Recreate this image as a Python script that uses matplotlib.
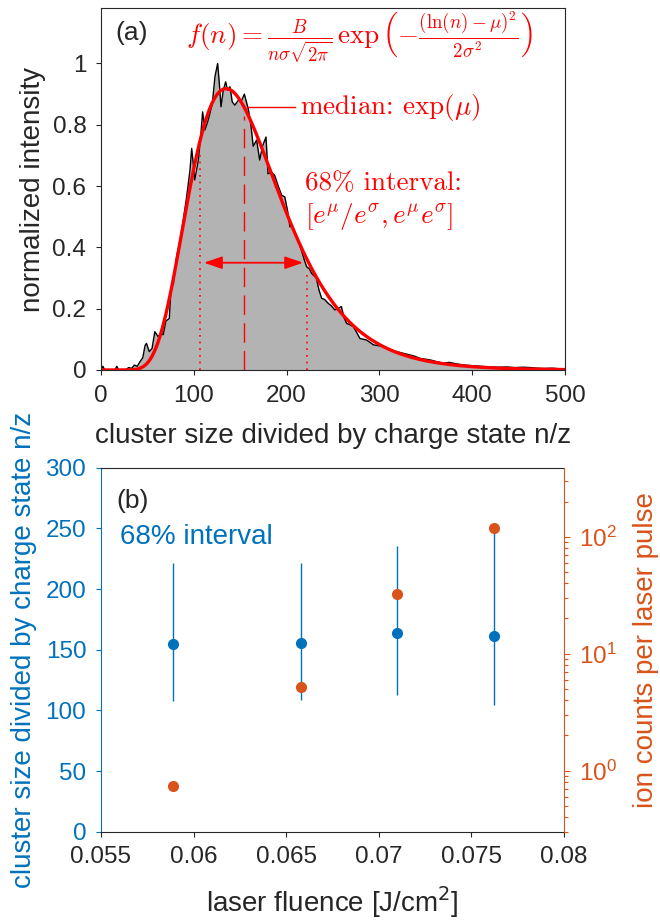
import numpy as np
import matplotlib
matplotlib.use('Agg')
import matplotlib.pyplot as plt
from matplotlib.ticker import FuncFormatter, LogLocator, NullFormatter

plt.rcParams['font.family'] = ['Liberation Sans', 'DejaVu Sans']

# %% data
# normalized histogram of n/z (first fluence), read as (n, intensity) points
hist_n = [0, 2, 4, 15, 17, 19, 26, 30, 33, 36, 39, 42, 45, 47.5, 49, 52, 55, 58, 61.5, 63.6,
          65, 67, 70, 73.6, 75.5, 78, 81.5, 85, 88.7, 92.3, 95.9, 97.7, 99.4, 101, 104.9,
          107.7, 109.5, 112, 115, 117.4, 120, 122.8, 125.7, 127.5, 129.3, 131.8, 134.3, 136.4,
          139, 141.4, 144.2, 148, 151, 154.5, 158.8, 161.5, 164, 167.7, 171, 174, 177.8, 180,
          183.5, 187, 191, 194.7, 198, 201, 203.6, 206, 209, 213, 216, 219, 221.6, 224.5, 227,
          232, 235, 237.8, 241, 245, 248, 252, 255, 259, 262, 264.7, 268, 272, 276, 279, 283,
          286, 290, 293.5, 298, 304, 310, 318.6, 325, 333, 338, 343.7, 350, 354.5, 362, 369,
          375, 383, 392, 401, 410, 419, 428, 437, 446, 455, 462, 470, 478, 486, 494, 500]
hist_y = [0.0, 0.012, 0.0, 0.0, 0.012, 0.0, 0.0, 0.008, 0.005, 0.016, 0.012, 0.027, 0.04,
          0.08, 0.087, 0.06, 0.07, 0.125, 0.109, 0.114, 0.12, 0.115, 0.16, 0.168, 0.27, 0.28,
          0.37, 0.42, 0.49, 0.565, 0.652, 0.723, 0.674, 0.62, 0.685, 0.772, 0.842, 0.783, 0.81,
          0.837, 0.87, 0.957, 1.0, 0.935, 0.859, 0.913, 0.94, 0.913, 0.924, 0.875, 0.864, 0.88,
          0.876, 0.90, 0.85, 0.80, 0.73, 0.75, 0.685, 0.73, 0.76, 0.64, 0.645, 0.636, 0.60,
          0.57, 0.565, 0.52, 0.467, 0.47, 0.45, 0.42, 0.39, 0.36, 0.337, 0.33, 0.315, 0.30,
          0.26, 0.234, 0.23, 0.217, 0.21, 0.196, 0.20, 0.207, 0.17, 0.152, 0.148, 0.141, 0.12,
          0.103, 0.10, 0.098, 0.09, 0.082, 0.08, 0.076, 0.068, 0.06, 0.055, 0.049, 0.045, 0.038,
          0.035, 0.033, 0.027, 0.022, 0.025, 0.02, 0.016, 0.014, 0.012, 0.01, 0.009, 0.01,
          0.008, 0.009, 0.008, 0.006, 0.005, 0.006, 0.004, 0.004]

# log-normal fit parameters
fit_B = 121.0
fit_mu = np.log(154.0)
fit_sigma = 0.365

# (b) fluence series
fluence = [0.05887, 0.0658, 0.0710, 0.07622]
nz_median = [154.6, 155.7, 163.4, 161.2]
nz_low = [107.7, 108.8, 112.9, 104.1]
nz_high = [221.6, 221.6, 235.8, 251.0]
ion_counts = [0.744, 5.19, 32.6, 117.9]

blue = '#0072BD'
orange = '#D95319'
red = '#FF0000'
dark = '#262626'
tick_fs = 17.5
label_fs = 20
math_fs = 19.5

fig = plt.figure(figsize=(6.6, 9.21), dpi=100)

# %% (a) histogram + fit
ax1 = fig.add_axes([101/660, 1 - 370/921, 464/660, 361.7/921])
ax1.fill_between(hist_n, hist_y, color='#b3b3b3', lw=0)
ax1.plot(hist_n, hist_y, color='k', lw=1.0)

n = np.linspace(0.5, 500, 1000)
f = fit_B / (n * fit_sigma * np.sqrt(2 * np.pi)) * np.exp(-(np.log(n) - fit_mu)**2 / (2 * fit_sigma**2))
ax1.plot(n, f, color=red, lw=2.4)

med = np.exp(fit_mu)
lo, hi = med / np.exp(fit_sigma), med * np.exp(fit_sigma)
ax1.plot([med, med], [0, 0.83], color=red, lw=1.0, dashes=(14, 6))
ax1.plot([lo, lo], [0, 0.717], color=red, lw=1.2, ls=(0, (1, 3)))
ax1.plot([hi, hi], [0, 0.32], color=red, lw=1.2, ls=(0, (1, 3)))
ax1.annotate('', xy=(lo + 4, 0.35), xytext=(hi - 4, 0.35),
             arrowprops=dict(arrowstyle='<|-|>,head_length=1.1,head_width=0.38',
                             color=red, lw=1.3, mutation_scale=10, shrinkA=0, shrinkB=0))
ax1.plot([157, 209], [0.858, 0.858], color=red, lw=1.0)

ax1.text(214, 0.858, r'median: $\exp(\mu)$', color=red, fontsize=math_fs,
         va='center', family='cmr10', math_fontfamily='cm')
ax1.text(220, 0.61, '68% interval:', color=red, fontsize=math_fs,
         va='center', family='cmr10', math_fontfamily='cm')
ax1.text(220, 0.50, r'$[e^\mu/e^\sigma,e^\mu e^\sigma]$', color=red, fontsize=math_fs,
         va='center', math_fontfamily='cm')
ax1.text(92, 1.082, r'$f(n)=\frac{B}{n\sigma\sqrt{2\pi}}\,\exp\left(-\frac{(\ln(n)-\mu)^2}{2\sigma^2}\right)$',
         color=red, fontsize=math_fs, va='center', math_fontfamily='cm')
ax1.text(16, 1.098, '(a)', color=dark, fontsize=19, va='center')

ax1.set_xlim(0, 500)
ax1.set_ylim(0, 1.18)
ax1.set_xticks(np.arange(0, 501, 100))
ax1.set_yticks([0, 0.2, 0.4, 0.6, 0.8, 1])
ax1.set_yticklabels(['0', '0.2', '0.4', '0.6', '0.8', '1'])
ax1.tick_params(direction='out', length=3.6, width=0.8, colors=dark, labelsize=tick_fs)
ax1.tick_params(axis='x', pad=7)
ax1.tick_params(axis='y', pad=7)
ax1.set_xlabel('cluster size divided by charge state n/z', fontsize=label_fs, color=dark, va='center')
ax1.xaxis.set_label_coords(0.5, (370 - 436) / 361.7)
ax1.set_ylabel('normalized intensity', fontsize=label_fs, color=dark, va='center')
ax1.yaxis.set_label_coords((33 - 101) / 464, 0.5)
for s in ax1.spines.values():
    s.set_color(dark)
    s.set_linewidth(0.8)

# %% (b) median / interval vs fluence, ion counts on log axis
ax2 = fig.add_axes([101/660, 1 - 831.7/921, 463/660, 364/921])
ax2.errorbar(fluence, nz_median,
             yerr=[np.subtract(nz_median, nz_low), np.subtract(nz_high, nz_median)],
             fmt='o', color=blue, ms=7, elinewidth=1.0, capsize=0)
ax2.set_xlim(0.055, 0.08)
ax2.set_ylim(0, 300)
ax2.set_xticks([0.055, 0.06, 0.065, 0.07, 0.075, 0.08])
ax2.set_xticklabels(['0.055', '0.06', '0.065', '0.07', '0.075', '0.08'])
ax2.set_yticks(np.arange(0, 301, 50))
ax2.tick_params(axis='x', direction='out', length=3.6, width=0.8, colors=dark, labelsize=tick_fs, pad=7)
ax2.tick_params(axis='y', direction='out', length=3.6, width=0.8, colors=blue, labelsize=tick_fs, pad=7)
ax2.set_xlabel(r'laser fluence [J/cm$^2$]', fontsize=label_fs, color=dark, va='center')
ax2.xaxis.set_label_coords(0.5, (831.7 - 902) / 364)
ax2.set_ylabel('cluster size divided by charge state n/z', fontsize=label_fs, color=blue, va='center')
ax2.yaxis.set_label_coords((24 - 101) / 463, 0.5)
ax2.text(0.05585, 272.6, '(b)', color=dark, fontsize=19, va='center')
ax2.text(0.05603, 243, '68% interval', color=blue, fontsize=label_fs, va='center')
ax2.spines['left'].set_color(blue)
ax2.spines['top'].set_color(dark)
ax2.spines['bottom'].set_color(dark)
ax2.spines['right'].set_visible(False)
for s in ax2.spines.values():
    s.set_linewidth(0.8)

ax3 = ax2.twinx()
ax3.plot(fluence, ion_counts, 'o', color=orange, ms=7)
ax3.set_yscale('log')
ax3.set_ylim(0.3, 390)
ax3.yaxis.set_major_locator(LogLocator(base=10, numticks=10))
ax3.yaxis.set_minor_locator(LogLocator(base=10, subs=np.arange(2, 10), numticks=20))
ax3.yaxis.set_minor_formatter(NullFormatter())
ax3.yaxis.set_major_formatter(FuncFormatter(lambda v, p: r'$\mathregular{10^{%d}}$' % round(np.log10(v))))
ax3.tick_params(axis='y', which='major', direction='out', length=4.5, width=0.8, colors=orange,
                labelsize=tick_fs, pad=6)
ax3.tick_params(axis='y', which='minor', direction='out', length=2.8, width=0.8, colors=orange)
ax3.set_ylabel('ion counts per laser pulse', fontsize=label_fs, color=orange, va='center')
ax3.yaxis.set_label_coords((646 - 101) / 463, 0.5)
for k in ['left', 'top', 'bottom']:
    ax3.spines[k].set_visible(False)
ax3.spines['right'].set_color(orange)
ax3.spines['right'].set_linewidth(0.8)

fig.savefig('out.png', dpi=100)
